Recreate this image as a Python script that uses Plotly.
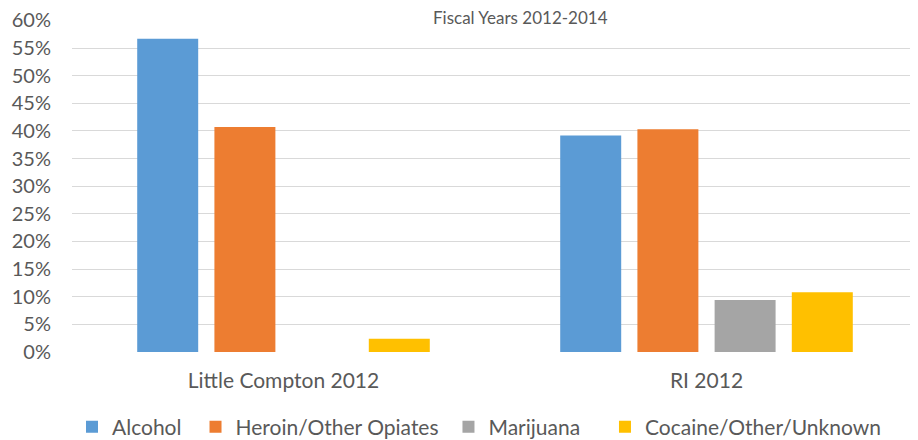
import plotly.graph_objects as go

categories = ["Little Compton 2012", "RI 2012"]
series_names = ["Alcohol", "Heroin/Other Opiates", "Marijuana", "Cocaine/Other/Unknown"]
alcohol = [0.567, 0.392]
heroin = [0.407, 0.403]
marijuana = [0.0, 0.094]
cocaine = [0.024, 0.108]
colors = ["#5B9BD5", "#ED7D31", "#A5A5A5", "#FFC000"]
y_ticks = [0, 0.05, 0.10, 0.15, 0.20, 0.25, 0.30, 0.35, 0.40, 0.45, 0.50, 0.55, 0.60]
y_tick_labels = ["0%", "5%", "10%", "15%", "20%", "25%", "30%", "35%", "40%",
                 "45%", "50%", "55%", "60%"]

# legend entry anchors (paper x) for each series
legend_ids = ["legend", "legend2", "legend3", "legend4"]
legend_x = [0.0, 0.146, 0.445, 0.630]

fig = go.Figure()
for name, vals, col, lid in zip(series_names, [alcohol, heroin, marijuana, cocaine],
                                colors, legend_ids):
    fig.add_trace(go.Bar(x=categories, y=vals, name=name, marker_color=col,
                         marker_line_width=0, legend=lid))

font_family = "Lato, Open Sans, sans-serif"
leg_common = dict(orientation="h", xanchor="left", y=-0.226, yanchor="middle",
                  font=dict(size=21, color="#595959"), itemwidth=30,
                  bgcolor="rgba(0,0,0,0)", borderwidth=0)
layout_legends = {lid: dict(x=lx, **leg_common) for lid, lx in zip(legend_ids, legend_x)}

fig.update_layout(
    width=910, height=432,
    margin=dict(l=64, r=0, t=12, b=88, autoexpand=False),
    paper_bgcolor="white", plot_bgcolor="white",
    barmode="group", bargap=0.27, bargroupgap=0.21,
    font=dict(family=font_family, size=20, color="#595959"),
    showlegend=True,
    annotations=[dict(text="Fiscal Years 2012-2014", xref="paper", yref="paper",
                      x=0.53, y=1.0, yshift=3, xanchor="center", yanchor="middle",
                      showarrow=False, font=dict(size=17, color="#595959"))],
    **layout_legends,
)
fig.update_yaxes(range=[0, 0.6008], tickvals=y_ticks, ticktext=y_tick_labels,
                 showgrid=True, gridcolor="#D9D9D9", gridwidth=1,
                 zeroline=False, showline=False, ticks="",
                 ticklabeloverflow="allow",
                 ticklabelstandoff=20, tickfont=dict(size=20, color="#595959"))
fig.update_xaxes(showline=False, ticks="", tickfont=dict(size=21, color="#595959"),
                 ticklabelstandoff=14)

fig.write_html("out.html")
